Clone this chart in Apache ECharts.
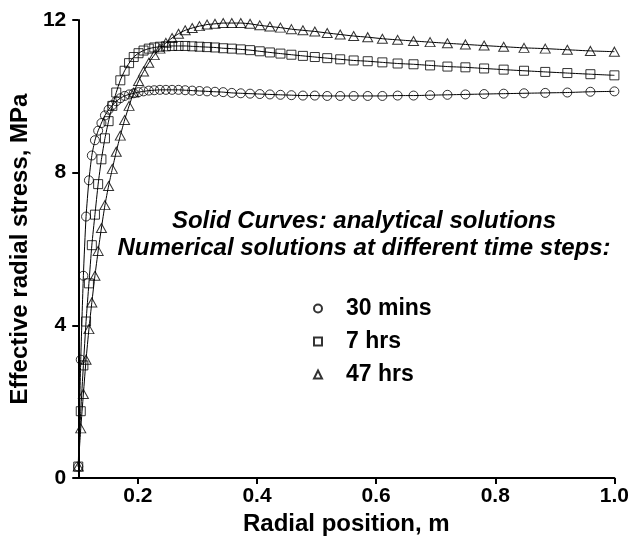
<!DOCTYPE html>
<html>
<head>
<meta charset="utf-8">
<script src="https://cdn.jsdelivr.net/npm/echarts@6/dist/echarts.min.js"></script>
<style>
  html, body { margin: 0; padding: 0; background: #fff; }
  #chart { width: 632px; height: 545px; }
</style>
</head>
<body>
<div id="chart"></div>
<script>
// Radial mesh nodes (m)
const radius = [
  0.1000, 0.1042, 0.1086, 0.1131, 0.1179, 0.1228, 0.1280, 0.1334, 0.1389, 0.1448,
  0.1509, 0.1572, 0.1638, 0.1706, 0.1778, 0.1853, 0.1931, 0.2012, 0.2096, 0.2184,
  0.2276, 0.2371, 0.2471, 0.2575, 0.2683, 0.2795, 0.2913, 0.3035, 0.3162, 0.3295,
  0.3433, 0.3577, 0.3728, 0.3884, 0.4047, 0.4217, 0.4394, 0.4578, 0.4771, 0.4971,
  0.5179, 0.5397, 0.5623, 0.5859, 0.6105, 0.6361, 0.6628, 0.6906, 0.7197, 0.7499,
  0.7813, 0.8141, 0.8483, 0.8839, 0.9210, 0.9597, 1.0000
];

// Effective radial stress (MPa) after 30 mins
const stress30min = [
  0.30, 3.10, 5.30, 6.85, 7.80, 8.45, 8.85, 9.10, 9.30, 9.50,
  9.65, 9.77, 9.87, 9.95, 10.01, 10.05, 10.08, 10.11, 10.13, 10.15,
  10.16, 10.17, 10.17, 10.17, 10.17, 10.16, 10.15, 10.14, 10.13, 10.12,
  10.11, 10.09, 10.08, 10.07, 10.06, 10.05, 10.04, 10.03, 10.02, 10.02,
  10.01, 10.01, 10.01, 10.01, 10.01, 10.02, 10.02, 10.03, 10.04, 10.05,
  10.06, 10.07, 10.08, 10.09, 10.10, 10.12, 10.13
];

// Effective radial stress (MPa) after 7 hrs
const stress7hr = [
  0.30, 1.75, 2.95, 4.10, 5.10, 6.10, 6.90, 7.70, 8.35, 8.90,
  9.35, 9.75, 10.10, 10.42, 10.67, 10.87, 11.03, 11.13, 11.20, 11.25,
  11.28, 11.30, 11.31, 11.32, 11.32, 11.32, 11.31, 11.30, 11.29, 11.28,
  11.26, 11.25, 11.23, 11.21, 11.18, 11.15, 11.12, 11.09, 11.06, 11.03,
  11.00, 10.97, 10.94, 10.92, 10.89, 10.86, 10.84, 10.81, 10.78, 10.76,
  10.73, 10.70, 10.67, 10.64, 10.61, 10.58, 10.55
];

// Effective radial stress (MPa) after 47 hrs
const stress47hr = [
  0.30, 1.30, 2.20, 3.10, 3.90, 4.60, 5.30, 5.95, 6.55, 7.15,
  7.65, 8.10, 8.55, 8.97, 9.38, 9.75, 10.10, 10.40, 10.65, 10.88,
  11.08, 11.25, 11.40, 11.53, 11.64, 11.73, 11.79, 11.84, 11.88, 11.90,
  11.92, 11.92, 11.92, 11.90, 11.86, 11.83, 11.80, 11.76, 11.73, 11.70,
  11.66, 11.62, 11.58, 11.55, 11.51, 11.48, 11.45, 11.42, 11.39, 11.36,
  11.33, 11.30, 11.27, 11.25, 11.22, 11.19, 11.17
];

const seriesNames = ['30 mins', '7 hrs', '47 hrs'];
const seriesSymbols = ['circle', 'rect', 'triangle'];
const seriesValues = [stress30min, stress7hr, stress47hr];

const xTickValues = [0.2, 0.4, 0.6, 0.8, 1.0];
const yTickValues = [0, 4, 8, 12];

const xAxisTitle = 'Radial position, m';
const yAxisTitle = 'Effective radial stress, MPa';
const noteLines = ['Solid Curves: analytical solutions', 'Numerical solutions at different time steps:'];

const FONT = '"Liberation Sans", Arial, Helvetica, sans-serif';

const chart = echarts.init(document.getElementById('chart'), null, { renderer: 'canvas' });

const series = [];
seriesValues.forEach((vals, k) => {
  const pts = radius.map((r, i) => [r, vals[i]]);
  // analytical curve
  series.push({
    name: 'curve ' + seriesNames[k],
    type: 'line',
    data: pts,
    showSymbol: false,
    smooth: 0.2,
    lineStyle: { color: '#000', width: 1 },
    silent: true,
    z: 2
  });
  // numerical points
  series.push({
    name: seriesNames[k],
    type: 'scatter',
    data: pts,
    symbol: seriesSymbols[k],
    symbolSize: k === 2 ? [10, 9] : 9,
    itemStyle: { color: 'rgba(255,255,255,0)', borderColor: '#000', borderWidth: 1 },
    z: 3
  });
});

const option = {
  animation: false,
  backgroundColor: '#fff',
  grid: { left: 78, right: 17, top: 20, bottom: 67, containLabel: false },
  xAxis: {
    type: 'value',
    min: 0.1,
    max: 1.0,
    name: xAxisTitle,
    nameLocation: 'middle',
    nameGap: 32,
    nameTextStyle: { fontFamily: FONT, fontWeight: 'bold', fontSize: 24, color: '#000' },
    axisLine: { show: true, onZero: false, lineStyle: { color: '#000', width: 2 } },
    axisTick: { show: true, length: 6, customValues: xTickValues, lineStyle: { color: '#000', width: 2 } },
    axisLabel: {
      customValues: xTickValues,
      formatter: v => v.toFixed(1),
      fontFamily: FONT, fontWeight: 'bold', fontSize: 21, color: '#000', margin: 8
    },
    splitLine: { show: false }
  },
  yAxis: {
    type: 'value',
    min: 0,
    max: 12,
    interval: 4,
    name: yAxisTitle,
    nameLocation: 'middle',
    nameGap: 44,
    nameTextStyle: { fontFamily: FONT, fontWeight: 'bold', fontSize: 24, color: '#000' },
    axisLine: { show: true, lineStyle: { color: '#000', width: 2 } },
    axisTick: { show: true, length: 6, lineStyle: { color: '#000', width: 2 } },
    axisLabel: {
      customValues: yTickValues,
      fontFamily: FONT, fontWeight: 'bold', fontSize: 21, color: '#000', margin: 12
    },
    splitLine: { show: false }
  },
  legend: {
    orient: 'vertical',
    left: 308,
    top: 292,
    itemWidth: 8,
    itemHeight: 8,
    itemGap: 10,
    data: seriesNames,
    selectedMode: false,
    textStyle: { fontFamily: FONT, fontWeight: 'bold', fontSize: 23, color: '#000', padding: [0, 0, 0, 19], lineHeight: 23 }
  },
  graphic: [
    {
      type: 'text', x: 364, y: 209, silent: true,
      style: { text: noteLines[0], font: 'italic bold 24px ' + FONT, fill: '#000', align: 'center', verticalAlign: 'top' }
    },
    {
      type: 'text', x: 364, y: 236, silent: true,
      style: { text: noteLines[1], font: 'italic bold 24px ' + FONT, fill: '#000', align: 'center', verticalAlign: 'top' }
    }
  ],
  series: series
};

chart.setOption(option);
</script>
</body>
</html>
